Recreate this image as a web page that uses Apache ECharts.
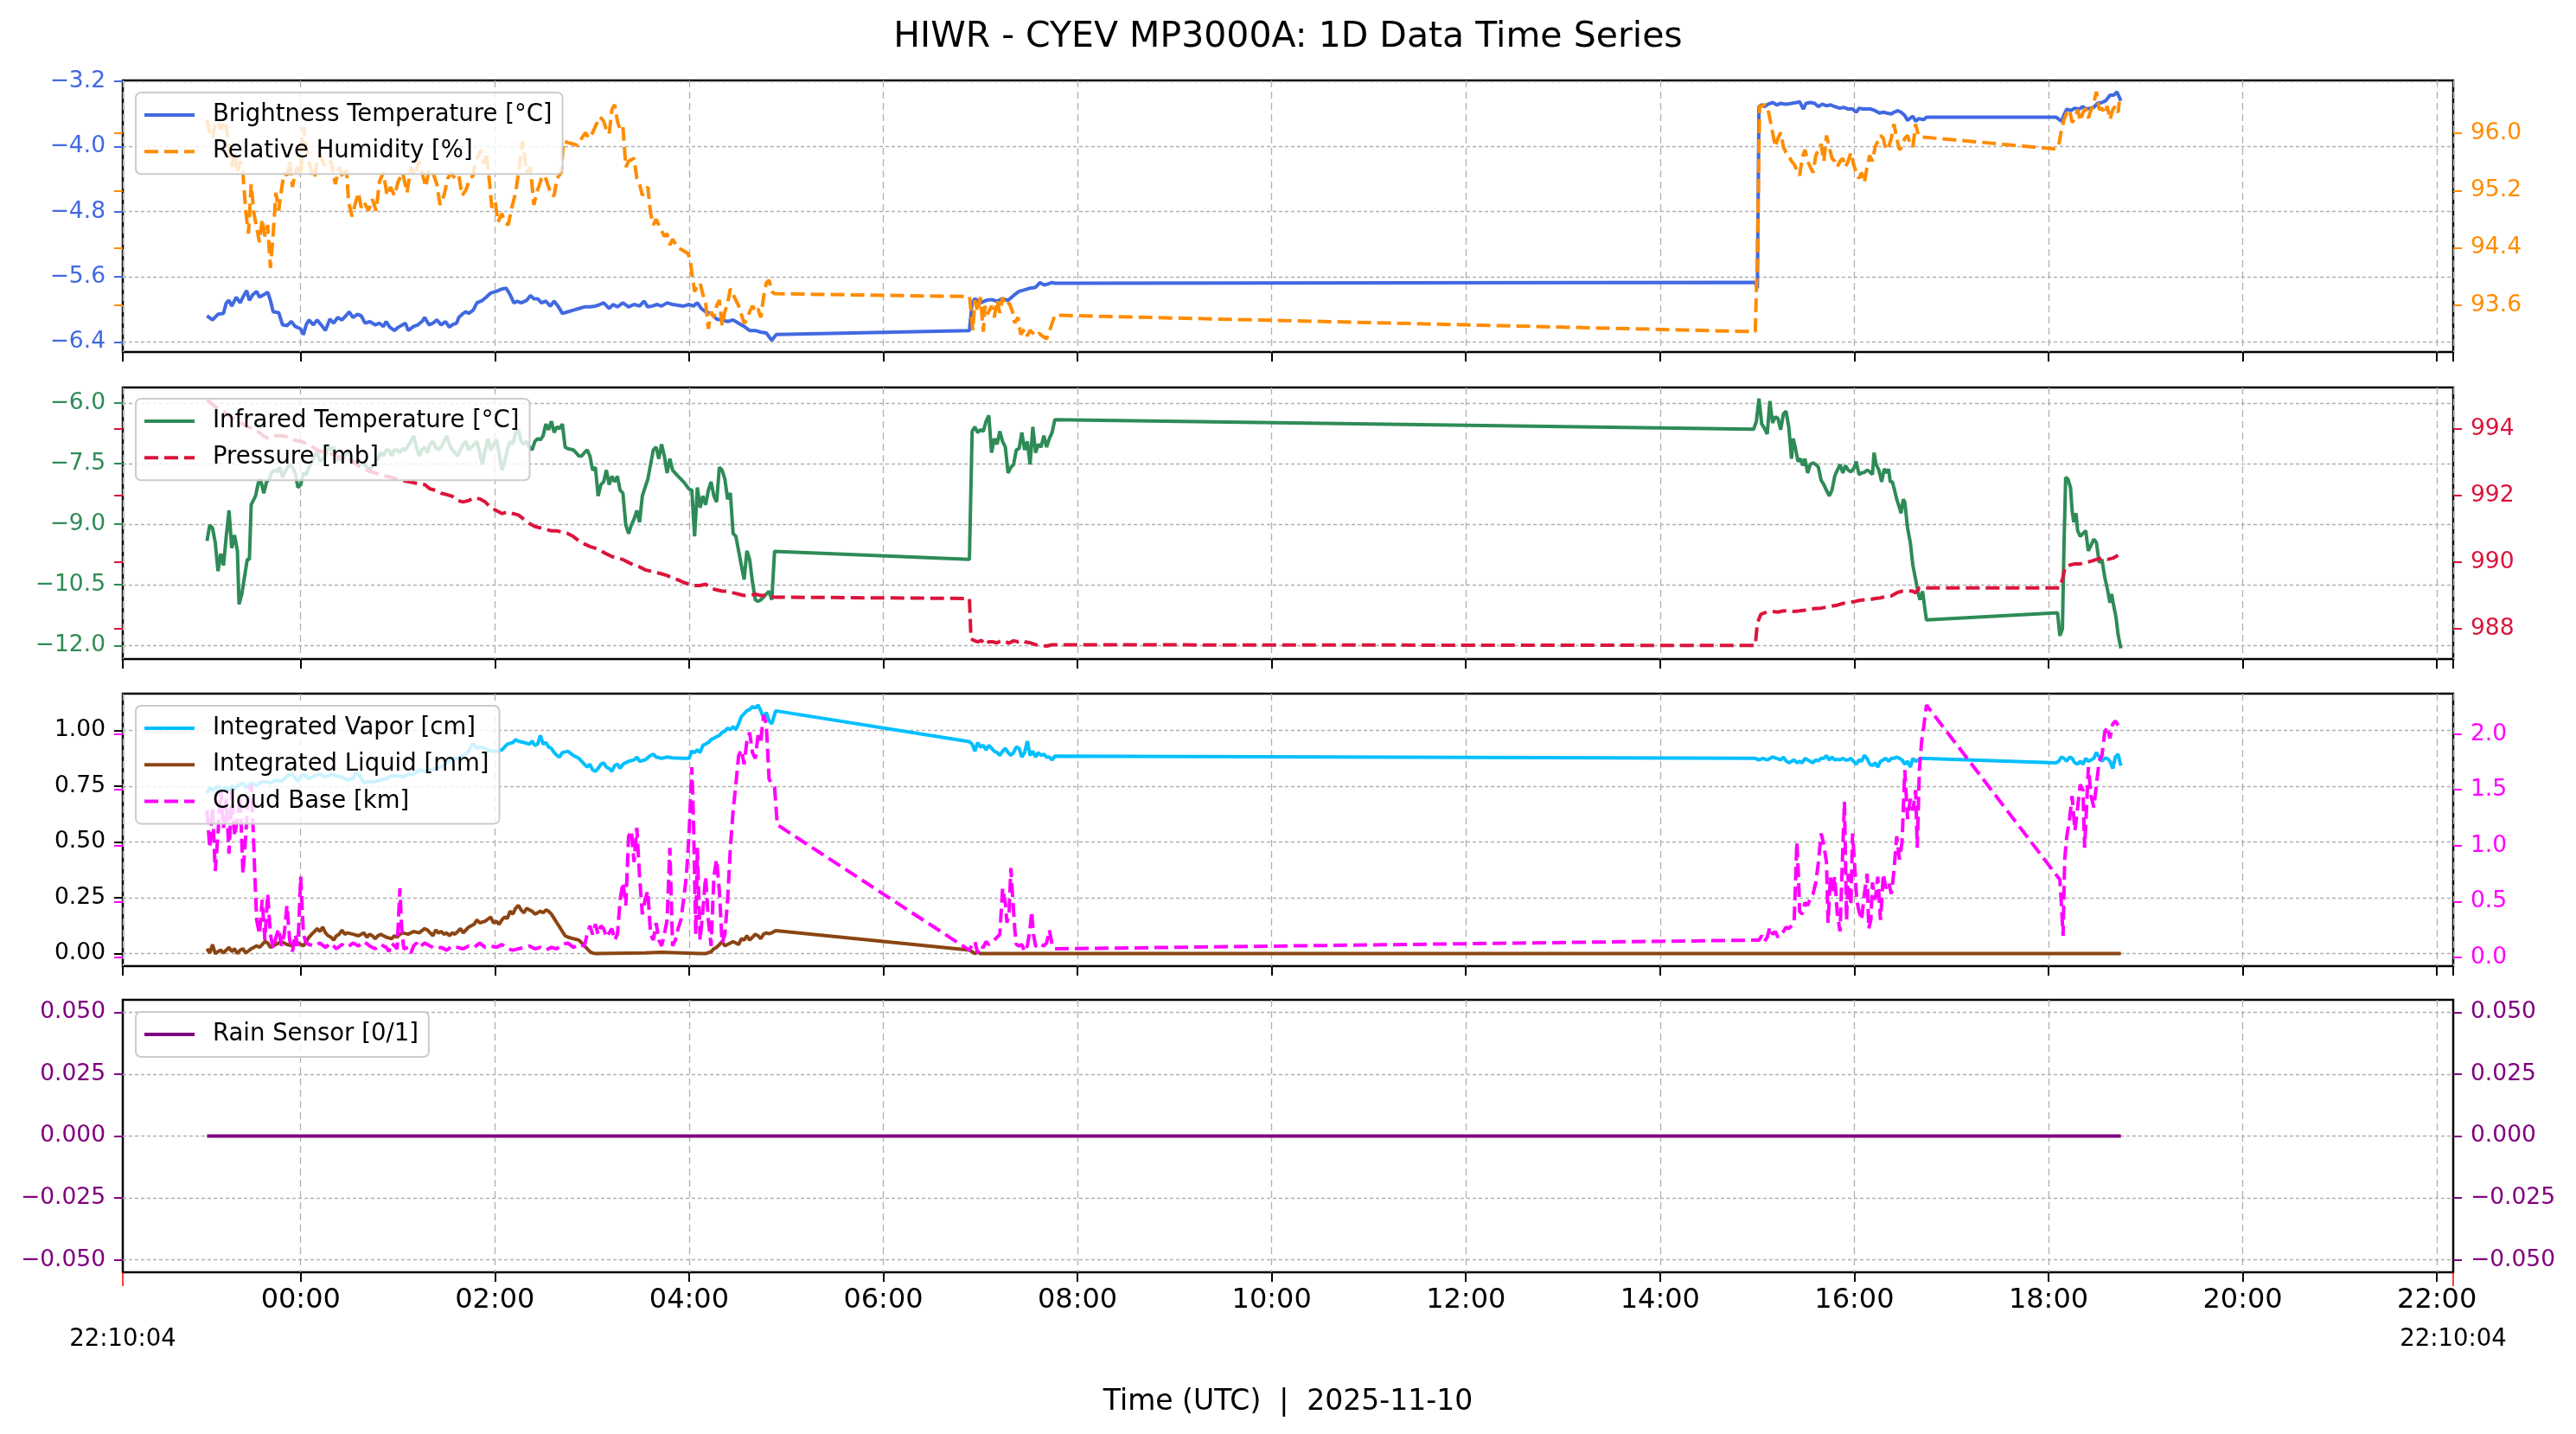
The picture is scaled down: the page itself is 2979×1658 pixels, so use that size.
<!DOCTYPE html>
<html>
<head>
<meta charset="utf-8">
<script src="https://cdn.jsdelivr.net/npm/echarts@6/dist/echarts.min.js"></script>
<style>
  html, body { margin: 0; padding: 0; background: #fff; }
  #chart { width: 2979px; height: 1658px; }
</style>
</head>
<body>
<div id="chart"></div>
<script>
// time = minutes from 2025-11-10 00:00 UTC (negative = evening of 11-09)
const tMin = -109.93, tMax = 1330.07;   // 22:10:04 .. 22:10:04
const timeTicks = [0, 120, 240, 360, 480, 600, 720, 840, 960, 1080, 1200, 1320];
const timeLabels = ['00:00', '02:00', '04:00', '06:00', '08:00', '10:00', '12:00', '14:00', '16:00', '18:00', '20:00', '22:00'];
const edgeLabels = ['22:10:04', '22:10:04'];

// brightness temperature [°C]
const btT = [-57.9,-54.5,-51.1,-47.7,-46.0,-44.3,-42.6,-39.8,-37.4,-35.7,-33.4,-31.7,-29.6,-27.2,-25.5,-22.8,-20.4,-18.7,-17.0,-13.6,-11.2,-8.5,-5.8,-3.4,0,1.7,3.4,5.1,7.8,10.2,12.6,15.3,18.0,20.4,22.8,25.5,27.9,30.0,32.3,35.1,37.4,39.8,42.6,46.0,48.7,51.1,52.8,55.1,57.9,60.3,64.7,66.4,69.8,72.5,74.9,76.6,79.3,81.7,84.1,86.8,89.5,91.9,93.6,96.3,97.7,100.4,102.1,103.8,106.6,108.9,112.3,114.7,117.4,120.9,124.3,127.0,129.4,131.7,133.8,136.2,139.6,142.0,144.0,146.4,148.8,151.5,154.2,156.6,159.0,161.7,165.1,168.5,171.9,175.3,178.7,182.1,184.9,187.2,190.6,193.0,195.7,199.1,202.6,206.0,209.4,212.1,214.5,217.2,220.3,223.0,226.4,229.8,233.2,236.6,240.0,242.7,245.1,247.5,250.2,253.6,257.0,260.4,263.8,267.2,270.6,274.0,277.4,280.9,284.3,287.7,291.1,293.8,
  413.2,414.9,416.6,420.0,423.5,426.9,430.3,433.7,437.1,440.5,443.9,447.3,450.7,454.1,456.8,459.2,461.6,464.3,466.0,
  898.8,900.1,901.1,902.8,904.5,906.8,909.5,912.2,914.5,917.8,921.2,924.5,926.2,928.5,930.2,932.8,935.5,937.8,940.2,942.8,945.5,947.9,951.2,953.5,956.2,958.9,961.2,962.9,965.5,967.9,970.2,972.9,975.5,977.9,980.2,982.9,984.5,986.9,988.9,991.2,992.9,994.6,996.2,997.9,999.6,1002.9,1004.6,1084.6,1088.0,1089.6,1091.3,1093.6,1096.3,1099.0,1101.3,1103.0,1105.6,1108.0,1110.3,1113.0,1115.3,1118.0,1120.3,1122.3,1124.7];
const btV = [-6.08,-6.13,-6.06,-6.05,-5.92,-5.89,-5.96,-5.85,-5.92,-5.85,-5.77,-5.89,-5.82,-5.78,-5.85,-5.82,-5.79,-5.89,-6.03,-6.04,-6.19,-6.20,-6.15,-6.21,-6.24,-6.31,-6.19,-6.13,-6.19,-6.13,-6.19,-6.26,-6.12,-6.17,-6.10,-6.13,-6.08,-6.03,-6.10,-6.06,-6.08,-6.17,-6.15,-6.19,-6.17,-6.21,-6.15,-6.22,-6.26,-6.22,-6.17,-6.26,-6.21,-6.19,-6.15,-6.10,-6.19,-6.17,-6.13,-6.19,-6.15,-6.22,-6.19,-6.17,-6.10,-6.05,-6.03,-6.05,-6.01,-5.92,-5.89,-5.85,-5.80,-5.78,-5.75,-5.74,-5.82,-5.92,-5.90,-5.92,-5.89,-5.83,-5.87,-5.87,-5.92,-5.90,-5.96,-5.90,-5.96,-6.05,-6.03,-6.01,-5.99,-5.97,-5.97,-5.96,-5.94,-5.92,-5.99,-5.94,-5.97,-5.92,-5.97,-5.94,-5.96,-5.90,-5.97,-5.96,-5.94,-5.96,-5.92,-5.94,-5.95,-5.96,-5.94,-5.96,-5.92,-5.99,-6.03,-6.05,-6.12,-6.13,-6.15,-6.13,-6.17,-6.21,-6.26,-6.26,-6.28,-6.29,-6.38,-6.31,
  -6.26,-5.92,-5.87,-5.92,-5.89,-5.88,-5.90,-5.87,-5.89,-5.83,-5.78,-5.76,-5.74,-5.73,-5.67,-5.70,-5.69,-5.67,-5.68,
  -5.67,-5.74,-3.51,-3.49,-3.51,-3.48,-3.46,-3.49,-3.47,-3.48,-3.47,-3.46,-3.45,-3.54,-3.47,-3.46,-3.47,-3.51,-3.48,-3.50,-3.49,-3.51,-3.53,-3.52,-3.54,-3.54,-3.58,-3.53,-3.54,-3.54,-3.54,-3.56,-3.59,-3.58,-3.59,-3.60,-3.58,-3.56,-3.58,-3.62,-3.68,-3.65,-3.63,-3.69,-3.66,-3.67,-3.64,-3.64,-3.69,-3.61,-3.54,-3.56,-3.53,-3.54,-3.51,-3.54,-3.53,-3.52,-3.47,-3.46,-3.44,-3.37,-3.37,-3.33,-3.44];

// relative humidity [%]
const rhT = [-57.9,-56.2,-54.5,-52.8,-51.1,-49.4,-47.7,-46.0,-44.3,-42.6,-40.9,-39.1,-37.4,-35.7,-34.0,-32.3,-30.6,-28.9,-27.2,-25.5,-23.8,-22.1,-20.4,-18.7,-17.0,-15.3,-13.6,-11.9,-10.2,-8.5,-6.8,-5.1,-3.4,-1.7,0,1.7,3.4,5.1,6.8,8.5,10.2,11.9,15.3,18.7,21.4,23.8,26.2,28.3,29.6,31.7,34.0,35.7,37.4,39.1,41.9,44.3,46.6,48.7,51.1,53.4,55.5,57.9,60.3,63.0,65.7,68.1,70.5,73.2,75.9,77.3,79.3,81.7,84.1,86.1,88.5,90.9,92.9,95.3,97.7,99.7,102.1,104.5,106.6,107.9,110.0,111.3,113.4,114.7,116.8,118.1,120.2,121.9,124.3,126.0,128.3,130.4,132.8,135.1,137.2,139.6,142.0,144.0,146.4,148.8,150.8,153.2,154.9,156.6,158.3,161.0,162.4,165.1,168.5,171.2,173.6,176.0,178.0,180.4,182.8,184.9,187.2,188.9,190.6,192.3,194.0,195.7,197.4,199.1,200.9,202.6,204.3,206.0,207.7,209.4,211.1,212.8,214.5,216.2,217.9,219.6,221.3,223.0,224.7,226.4,228.1,229.8,233.2,236.6,239.3,240.7,241.7,243.4,245.1,246.8,248.5,250.2,251.9,253.6,255.3,257.0,258.7,260.4,262.1,263.8,265.5,267.2,268.9,270.6,272.3,274.0,275.7,277.4,279.2,280.9,282.6,284.3,286.0,287.7,289.4,291.1,292.8,
  413.2,413.9,415.3,416.6,418.3,420.0,421.8,422.8,424.1,425.2,426.9,428.6,430.3,432.0,433.7,435.4,437.8,439.8,441.2,443.2,444.9,447.3,449.0,450.7,452.4,454.1,456.2,458.2,460.9,462.6,464.3,466.0,
  898.8,900.1,901.5,902.8,904.5,906.2,907.8,909.5,911.2,912.8,914.5,916.2,917.8,919.5,921.2,922.8,924.5,926.2,927.8,929.5,931.2,932.8,934.5,936.2,937.8,939.5,941.2,942.8,944.5,946.2,947.9,949.5,951.2,952.9,954.5,956.2,957.9,959.5,961.2,962.9,964.5,966.2,967.9,969.5,971.2,972.9,974.5,976.2,977.9,979.5,981.2,982.9,984.5,986.2,987.9,989.5,991.2,992.9,994.6,996.2,997.9,999.6,1001.2,
  1084.6,1086.3,1088.0,1089.6,1091.3,1093.0,1094.6,1096.3,1098.0,1099.6,1101.3,1103.0,1104.6,1106.3,1108.0,1109.6,1111.3,1113.0,1114.7,1116.3,1118.0,1119.7,1121.3,1123.0,1123.7];
const rhV = [96.19,96.01,95.93,96.13,96.17,96.05,96.17,96.09,95.81,95.53,95.73,95.45,95.61,95.45,94.92,94.60,95.29,94.88,94.68,94.48,94.80,94.56,94.72,94.12,94.60,95.17,94.92,95.21,95.45,95.41,95.61,95.25,95.45,95.53,95.41,96.09,95.81,95.61,95.45,95.37,95.61,95.69,95.53,95.61,95.29,95.53,95.37,95.49,95.04,94.84,95.04,95.17,94.96,95.04,94.92,95.08,94.92,95.33,95.45,95.13,95.25,95.13,95.33,95.45,95.17,95.53,95.41,95.61,95.37,95.25,95.49,95.45,95.29,95.00,95.13,95.37,95.45,95.37,95.41,95.13,95.21,95.37,95.41,95.61,95.69,95.77,95.57,95.73,95.29,94.96,95.04,94.76,94.88,94.76,94.72,94.96,95.17,95.53,95.89,95.45,95.53,95.00,95.21,95.37,95.41,95.25,95.13,95.13,95.37,95.45,95.89,95.87,95.85,95.83,95.93,96.01,95.93,96.01,96.13,96.23,96.17,96.05,95.99,96.33,96.40,96.17,96.05,96.09,95.53,95.61,95.63,95.65,95.37,95.29,95.13,95.21,95.25,94.88,94.72,94.80,94.72,94.64,94.56,94.60,94.44,94.52,94.40,94.36,94.32,94.24,94.04,93.79,93.87,93.91,93.75,93.63,93.27,93.51,93.43,93.59,93.67,93.31,93.51,93.63,93.83,93.75,93.67,93.59,93.47,93.35,93.39,93.51,93.59,93.51,93.55,93.43,93.71,93.91,93.95,93.79,93.76,
  93.72,93.59,93.25,93.67,93.51,93.71,93.23,93.59,93.47,93.51,93.59,93.43,93.67,93.49,93.71,93.59,93.63,93.51,93.35,93.43,93.19,93.27,93.17,93.25,93.21,93.17,93.21,93.17,93.13,93.23,93.35,93.46,
  93.23,94.32,96.38,96.38,96.40,96.38,96.21,96.01,95.81,95.93,96.01,95.81,95.73,95.69,95.61,95.57,95.49,95.41,95.65,95.77,95.61,95.53,95.45,95.69,95.77,95.85,95.61,95.97,95.81,95.65,95.61,95.53,95.61,95.65,95.53,95.61,95.73,95.57,95.45,95.37,95.45,95.31,95.53,95.69,95.61,95.81,95.89,95.97,95.93,95.77,95.81,95.93,96.13,95.93,95.77,95.81,95.93,95.97,95.85,95.81,96.13,95.97,95.95,
  95.78,95.83,96.05,96.19,96.29,96.33,96.15,96.21,96.33,96.17,96.29,96.35,96.21,96.33,96.42,96.58,96.33,96.35,96.27,96.38,96.19,96.33,96.38,96.29,96.44];

// infrared temperature [°C]
const irT = [-57.9,-56.2,-54.5,-52.8,-51.1,-49.4,-47.7,-46.0,-44.3,-42.6,-40.9,-39.1,-38.1,-36.4,-34.7,-33.0,-31.7,-30.6,-28.9,-27.9,-26.2,-24.9,-22.8,-21.1,-19.4,-18.0,-16.3,-14.6,-12.9,-11.2,-9.2,-6.8,-5.1,-3.4,-1.7,0,1.7,3.4,5.1,6.8,8.5,10.2,11.9,13.6,15.3,17.0,18.7,20.4,22.1,23.8,25.5,27.2,28.9,32.3,35.7,39.1,42.6,46.0,47.7,49.4,51.1,52.8,54.5,56.2,57.9,59.6,61.3,63.0,64.7,66.4,68.1,69.8,71.5,73.2,74.9,76.6,78.3,80.0,81.7,83.4,85.1,86.8,88.5,90.2,91.9,93.6,95.3,97.0,98.7,100.4,102.1,103.8,105.5,107.2,108.9,110.6,112.3,114.0,115.7,117.4,119.2,120.9,122.6,124.3,126.0,127.7,129.4,131.1,132.8,134.5,136.2,137.9,139.6,141.3,143.0,144.7,146.4,148.1,149.8,151.5,153.2,154.9,156.6,158.3,160.0,161.7,163.4,165.1,168.5,171.9,173.6,175.3,177.0,178.7,180.4,182.1,183.8,185.5,187.2,188.9,190.6,192.3,194.0,195.7,197.4,199.1,200.9,202.6,204.3,206.0,207.7,209.4,211.1,212.8,214.5,216.2,217.9,219.6,221.3,223.0,224.7,226.4,228.1,229.8,233.2,236.6,240.0,241.7,243.4,245.1,246.8,248.5,250.2,251.9,253.6,255.3,257.0,258.7,260.4,262.1,263.8,265.5,267.2,268.9,270.6,272.3,274.0,275.7,277.4,279.2,280.9,282.6,284.3,286.0,287.7,289.4,291.1,292.8,
  413.2,414.9,416.6,418.3,420.0,421.8,423.5,425.2,426.9,428.6,430.3,432.0,433.7,435.4,437.1,438.8,440.5,442.2,443.9,445.6,447.3,449.0,450.7,452.4,454.1,455.8,457.5,459.2,460.9,462.6,464.3,466.0,
  897.8,899.5,901.1,902.8,904.5,906.2,907.8,909.5,911.2,912.8,914.5,916.2,917.8,919.5,921.2,922.2,923.5,925.2,926.8,928.2,929.5,931.2,932.8,934.5,936.2,937.8,939.5,941.2,942.8,944.5,946.2,947.9,949.5,951.2,952.9,954.5,956.2,957.9,959.5,961.2,962.9,964.5,966.2,967.9,969.5,971.2,972.2,973.5,975.2,976.9,978.5,980.2,981.2,982.2,983.5,984.9,986.2,987.9,988.9,990.2,991.2,992.9,994.6,996.2,997.9,999.6,1000.6,1002.2,1003.6,1004.6,
  1085.6,1087.0,1088.6,1089.6,1090.6,1092.0,1093.6,1094.6,1095.6,1097.0,1098.0,1099.6,1101.3,1103.0,1104.6,1106.3,1108.0,1109.6,1111.3,1113.0,1114.7,1116.3,1118.0,1119.0,1120.3,1121.7,1123.0,1124.7];
const irV = [-9.41,-9.02,-9.09,-9.45,-10.16,-9.73,-10.02,-9.30,-8.66,-9.59,-9.27,-9.66,-10.98,-10.73,-10.30,-9.87,-9.87,-8.52,-8.38,-8.30,-7.98,-7.88,-8.23,-7.95,-7.88,-7.73,-7.66,-7.70,-7.59,-7.84,-7.66,-7.52,-7.59,-7.73,-8.09,-8.02,-7.73,-7.77,-7.59,-7.45,-7.31,-7.23,-7.45,-7.38,-7.31,-7.02,-7.16,-7.09,-7.45,-7.31,-7.45,-7.31,-7.16,-7.45,-7.45,-7.52,-7.66,-7.45,-7.38,-7.23,-7.31,-7.16,-7.16,-7.31,-7.16,-7.16,-7.23,-7.13,-7.16,-7.06,-6.95,-6.81,-7.09,-7.31,-7.16,-7.09,-7.23,-7.02,-6.95,-7.09,-7.16,-7.09,-6.95,-6.81,-7.02,-7.16,-7.23,-7.31,-7.16,-7.02,-6.95,-7.16,-7.09,-7.02,-6.95,-7.23,-7.52,-7.16,-6.88,-7.16,-7.02,-6.91,-7.23,-7.66,-7.45,-7.16,-6.95,-7.02,-6.73,-6.66,-6.95,-7.02,-6.95,-7.09,-7.16,-6.95,-6.88,-6.91,-6.81,-6.52,-6.66,-6.45,-6.73,-6.59,-6.63,-6.52,-7.09,-7.13,-7.16,-7.31,-7.31,-7.23,-7.16,-7.31,-7.66,-7.59,-8.30,-8.02,-7.95,-7.66,-8.02,-7.81,-7.95,-7.81,-8.16,-8.23,-9.02,-9.23,-9.02,-8.87,-8.66,-8.95,-8.30,-8.09,-7.88,-7.52,-7.16,-7.09,-7.38,-7.02,-7.31,-7.73,-7.38,-7.66,-7.81,-7.95,-8.13,-8.16,-9.30,-8.09,-8.59,-8.30,-8.52,-8.16,-7.95,-8.30,-8.45,-7.59,-7.66,-7.88,-8.38,-8.23,-9.23,-9.30,-9.66,-10.02,-10.37,-9.66,-9.87,-10.44,-10.87,-10.91,-10.87,-10.80,-10.73,-10.66,-10.87,-9.67,
  -9.87,-6.70,-6.59,-6.73,-6.66,-6.70,-6.45,-6.31,-7.23,-6.88,-7.02,-6.70,-6.95,-7.09,-7.73,-7.59,-7.52,-7.16,-7.13,-6.73,-7.16,-6.95,-7.52,-6.59,-7.23,-7.02,-7.09,-6.81,-7.09,-6.88,-6.73,-6.41,
  -6.65,-6.45,-5.89,-6.52,-6.63,-6.77,-5.95,-6.49,-6.34,-6.38,-6.66,-6.27,-6.20,-6.59,-7.38,-6.88,-7.09,-7.45,-7.38,-7.55,-7.38,-7.73,-7.52,-7.48,-7.52,-7.59,-7.91,-8.02,-8.16,-8.30,-8.16,-7.81,-7.66,-7.52,-7.73,-7.55,-7.66,-7.70,-7.63,-7.45,-7.77,-7.73,-7.72,-7.66,-7.70,-7.77,-7.23,-7.52,-7.66,-7.95,-7.63,-7.73,-7.63,-7.95,-7.95,-8.16,-8.38,-8.59,-8.73,-8.38,-8.45,-9.09,-9.45,-10.02,-10.37,-10.73,-10.87,-10.66,-11.09,-11.37,
  -11.19,-11.76,-11.59,-9.45,-7.84,-7.88,-8.09,-8.66,-8.95,-8.73,-9.16,-9.30,-9.23,-9.16,-9.66,-9.52,-9.37,-9.45,-9.95,-9.87,-10.30,-10.59,-10.94,-10.73,-11.02,-11.30,-11.73,-12.07];

// pressure [mb]
const prT = [-57.9,-52.8,-49.4,-46.0,-42.6,-39.1,-35.7,-32.3,-28.9,-25.5,-22.1,-18.7,-15.3,-11.9,-8.5,-5.1,0,5.1,10.2,15.3,20.4,25.5,30.6,35.7,40.9,46.0,51.1,56.2,61.3,66.4,71.5,76.6,80.0,83.4,86.8,90.2,93.6,97.0,100.4,103.8,107.2,110.6,114.0,117.4,120.9,124.3,127.7,131.1,134.5,137.9,141.3,144.7,148.1,151.5,154.9,158.3,161.7,165.1,168.5,171.9,175.3,178.7,182.1,185.5,188.9,192.3,195.7,199.1,202.6,206.0,209.4,212.8,216.2,219.6,223.0,226.4,229.8,233.2,236.6,240.0,243.4,246.8,250.2,253.6,257.0,260.4,263.8,267.2,270.6,274.0,277.4,280.9,284.3,287.7,292.8,
  413.2,414.2,415.9,418.3,420.7,422.8,425.2,427.5,430.3,433.0,435.4,437.8,440.5,443.2,445.6,447.3,450.7,454.1,457.5,460.9,464.3,466.0,
  898.8,900.1,902.2,904.5,909.5,912.8,916.2,919.5,922.8,926.2,929.5,932.8,936.2,939.5,942.8,946.2,949.5,952.9,956.2,959.5,962.9,966.2,969.5,972.9,976.2,979.5,982.9,986.2,989.5,992.9,996.2,997.9,1000.2,1087.0,1089.0,1090.3,1093.0,1096.3,1099.6,1103.0,1106.3,1109.6,1113.0,1116.3,1119.7,1123.0];
const prV = [994.88,994.67,994.58,994.45,994.36,994.23,994.15,994.06,994.02,993.89,993.76,993.71,993.80,993.80,993.76,993.67,993.63,993.54,993.37,993.28,993.24,993.11,993.07,992.89,992.76,992.68,992.59,992.55,992.46,992.42,992.37,992.33,992.20,992.16,992.07,992.03,991.98,991.85,991.81,991.85,991.94,991.90,991.81,991.64,991.55,991.46,991.51,991.46,991.42,991.29,991.16,991.07,991.03,990.99,990.94,990.94,990.90,990.86,990.77,990.64,990.55,990.47,990.42,990.34,990.25,990.17,990.12,990.08,989.99,989.91,989.86,989.77,989.73,989.69,989.65,989.60,989.52,989.47,989.39,989.34,989.30,989.30,989.34,989.21,989.17,989.13,989.13,989.08,989.04,989.00,989.00,989.04,989.00,989.00,988.95,
  988.91,987.70,987.65,987.61,987.65,987.52,987.61,987.61,987.58,987.65,987.61,987.57,987.64,987.61,987.65,987.61,987.58,987.52,987.50,987.48,987.52,987.52,
  987.50,988.17,988.43,988.48,988.52,988.50,988.54,988.54,988.52,988.54,988.56,988.59,988.61,988.62,988.65,988.68,988.71,988.76,988.80,988.81,988.85,988.87,988.88,988.91,988.93,988.97,988.99,989.08,989.13,989.14,989.13,989.08,989.23,989.23,989.56,989.86,989.91,989.95,989.95,989.99,990.03,990.08,990.12,990.08,990.12,990.21];

// integrated vapor [cm]
const ivT = [-57.9,-56.2,-54.5,-52.8,-51.1,-49.4,-47.7,-46.0,-44.3,-42.6,-40.9,-39.1,-37.4,-35.7,-34.0,-32.3,-30.6,-28.9,-27.2,-25.5,-22.1,-18.7,-15.3,-11.9,-8.5,-5.1,-1.7,0,1.7,5.1,8.5,11.9,15.3,18.7,22.1,25.5,28.9,32.3,34.0,35.7,39.1,42.6,46.0,49.4,52.8,56.2,59.6,63.0,66.4,69.8,73.2,76.6,80.0,83.4,86.8,90.2,93.6,97.0,100.4,103.8,105.5,107.2,108.9,110.6,114.0,117.4,120.9,124.3,127.7,131.1,132.8,134.5,137.9,141.3,143.0,144.7,146.4,148.1,149.8,151.5,153.2,154.9,156.6,158.3,160.0,161.7,165.1,168.5,171.9,175.3,177.0,178.7,180.4,182.1,183.8,185.5,187.2,188.9,190.6,192.3,194.0,195.7,197.4,199.1,202.6,206.0,207.7,209.4,212.8,216.2,217.9,219.6,223.0,226.4,229.8,236.6,240.0,241.7,243.4,245.1,246.8,248.5,250.2,251.9,253.6,255.3,257.0,258.7,260.4,262.1,263.8,265.5,267.2,268.9,270.6,272.3,274.0,275.7,277.4,279.2,280.9,282.6,284.3,286.0,287.7,289.4,291.1,293.5,
  413.2,414.9,416.6,418.3,420.0,421.8,423.5,425.2,426.9,428.6,430.3,432.0,433.7,435.4,437.1,438.8,440.5,442.2,443.9,445.6,447.3,449.0,450.7,452.4,454.1,455.8,457.5,459.2,460.9,462.6,464.3,466.0,
  898.8,901.1,903.5,906.2,909.5,912.2,914.5,916.2,917.8,919.5,921.2,922.8,924.5,926.2,927.8,929.5,931.2,932.8,934.5,936.2,937.8,939.5,941.2,942.8,944.5,946.2,947.9,949.5,951.2,952.9,954.5,956.2,957.9,959.5,961.2,962.9,964.5,966.2,967.9,969.5,971.2,972.9,974.5,976.2,977.9,979.5,981.2,982.9,984.5,986.2,987.9,989.5,991.2,992.9,994.6,996.2,997.9,999.6,1001.2,
  1084.6,1086.3,1088.0,1089.6,1091.3,1093.0,1094.6,1096.3,1098.0,1099.6,1101.3,1103.0,1104.6,1106.3,1108.0,1109.6,1111.3,1113.0,1114.7,1116.3,1118.0,1119.7,1121.3,1123.0,1124.7];
const ivV = [0.720,0.745,0.733,0.739,0.752,0.726,0.739,0.745,0.733,0.752,0.739,0.752,0.758,0.765,0.745,0.752,0.765,0.758,0.752,0.765,0.771,0.765,0.778,0.771,0.797,0.804,0.771,0.791,0.804,0.784,0.797,0.804,0.791,0.804,0.797,0.791,0.778,0.784,0.810,0.804,0.765,0.771,0.771,0.778,0.784,0.797,0.797,0.791,0.804,0.804,0.823,0.817,0.823,0.830,0.836,0.855,0.875,0.875,0.888,0.907,0.933,0.939,0.920,0.926,0.920,0.907,0.907,0.913,0.939,0.946,0.959,0.952,0.946,0.939,0.952,0.933,0.939,0.978,0.939,0.946,0.926,0.920,0.901,0.888,0.881,0.901,0.907,0.888,0.875,0.849,0.836,0.849,0.823,0.817,0.830,0.849,0.855,0.836,0.830,0.817,0.842,0.849,0.830,0.849,0.862,0.868,0.881,0.862,0.868,0.888,0.894,0.881,0.875,0.881,0.877,0.875,0.875,0.907,0.901,0.913,0.901,0.933,0.939,0.946,0.959,0.965,0.972,0.978,0.991,0.997,1.010,1.004,1.017,1.004,1.030,1.062,1.075,1.088,1.094,1.107,1.101,1.114,1.088,1.056,1.081,1.043,1.030,1.088,
  0.950,0.939,0.907,0.946,0.926,0.933,0.913,0.933,0.920,0.907,0.901,0.888,0.907,0.920,0.901,0.888,0.901,0.926,0.920,0.881,0.901,0.952,0.888,0.907,0.881,0.901,0.888,0.894,0.881,0.881,0.868,0.885,
  0.875,0.868,0.875,0.868,0.881,0.875,0.868,0.881,0.864,0.855,0.862,0.868,0.855,0.862,0.855,0.875,0.868,0.862,0.855,0.868,0.864,0.875,0.875,0.888,0.868,0.881,0.868,0.871,0.868,0.875,0.868,0.868,0.875,0.862,0.849,0.868,0.862,0.888,0.875,0.849,0.842,0.855,0.836,0.862,0.868,0.875,0.862,0.875,0.875,0.881,0.875,0.868,0.849,0.862,0.836,0.875,0.862,0.868,0.875,
  0.855,0.862,0.881,0.875,0.862,0.881,0.875,0.855,0.849,0.862,0.849,0.875,0.862,0.868,0.875,0.901,0.881,0.862,0.875,0.875,0.862,0.830,0.881,0.894,0.842];

// integrated liquid [mm]
const ilT = [-57.9,-56.2,-54.5,-52.8,-51.1,-49.4,-47.7,-46.0,-44.3,-42.6,-40.9,-39.1,-37.4,-35.7,-34.0,-32.3,-30.6,-28.9,-27.2,-25.5,-23.8,-22.1,-20.4,-18.7,-17.0,-15.3,-13.6,-11.9,-8.5,-5.1,-1.7,1.7,3.4,5.1,6.8,8.5,10.2,11.9,13.6,15.3,17.0,18.7,20.4,22.1,23.8,25.5,27.2,28.9,32.3,35.7,39.1,40.9,42.6,44.3,46.0,47.7,49.4,52.8,56.2,57.9,59.6,61.3,63.0,66.4,69.8,73.2,76.6,78.3,80.0,81.7,83.4,85.1,86.8,88.5,90.2,91.9,93.6,95.3,97.0,98.7,100.4,102.1,103.8,107.2,108.9,110.6,114.0,117.4,119.2,120.9,122.6,124.3,126.0,127.7,129.4,131.1,132.8,134.5,136.2,137.9,139.6,141.3,143.0,144.7,146.4,148.1,149.8,151.5,153.2,154.9,156.6,158.3,160.0,161.7,163.4,165.1,168.5,171.9,173.6,175.3,177.0,178.7,180.4,182.1,212.8,223.0,246.8,250.2,253.6,255.3,257.0,258.7,260.4,262.1,263.8,267.2,270.6,272.3,274.0,275.7,277.4,279.2,280.9,282.6,284.3,286.0,287.7,289.4,291.1,293.5,
  413.2,414.9,416.6,418.3,420.0,466.0,898.8,1124.7];
const ilV = [0.022,0.003,0.041,0.0,0.009,0.016,0.003,0.016,0.028,0.009,0.022,0.0,0.016,0.022,0.003,0.012,0.022,0.028,0.035,0.028,0.041,0.054,0.048,0.028,0.037,0.041,0.048,0.054,0.041,0.035,0.048,0.035,0.054,0.074,0.087,0.099,0.112,0.099,0.119,0.093,0.080,0.074,0.061,0.080,0.087,0.106,0.087,0.093,0.087,0.080,0.093,0.074,0.087,0.080,0.067,0.080,0.087,0.074,0.067,0.080,0.074,0.087,0.093,0.087,0.099,0.093,0.112,0.106,0.093,0.080,0.106,0.093,0.099,0.087,0.093,0.080,0.093,0.087,0.099,0.112,0.093,0.106,0.119,0.132,0.151,0.138,0.145,0.164,0.138,0.145,0.132,0.151,0.164,0.158,0.190,0.177,0.203,0.216,0.196,0.183,0.203,0.196,0.190,0.177,0.183,0.190,0.183,0.196,0.190,0.177,0.158,0.138,0.119,0.099,0.080,0.074,0.067,0.061,0.048,0.035,0.022,0.009,0.003,0.0,0.003,0.006,0.0,0.0,0.009,0.022,0.028,0.041,0.054,0.035,0.041,0.054,0.041,0.067,0.061,0.080,0.061,0.074,0.087,0.080,0.067,0.087,0.093,0.089,0.093,0.103,
  0.016,0.009,0.0,0.009,0.0,0.0,0.0,0.0];

// cloud base [km]
const cbT = [-57.9,-56.2,-54.5,-52.8,-51.1,-49.4,-47.7,-46.0,-44.3,-42.6,-40.9,-39.1,-37.4,-35.7,-34.0,-32.3,-30.6,-29.6,-28.3,-27.2,-25.5,-23.8,-22.1,-20.4,-18.7,-17.0,-15.3,-13.6,-11.9,-10.2,-8.5,-6.8,-5.1,-3.4,-1.7,0,1.7,3.4,5.1,8.5,11.9,15.3,18.7,22.1,25.5,28.9,32.3,35.7,39.1,42.6,46.0,49.4,52.8,54.5,56.2,57.9,59.6,61.3,62.3,63.7,66.4,68.1,69.8,71.5,73.2,76.6,80.0,83.4,86.8,90.2,93.6,97.0,100.4,103.8,107.2,110.6,114.0,117.4,120.9,124.3,127.7,131.1,134.5,137.9,141.3,144.7,148.1,151.5,154.9,158.3,161.7,165.1,168.5,171.9,175.3,177.0,178.7,180.4,182.1,183.8,185.5,187.2,188.9,190.6,192.3,194.0,195.7,197.4,199.1,200.9,202.6,204.3,206.0,207.7,209.4,211.1,212.8,214.5,216.2,217.9,219.6,221.3,223.0,224.7,226.4,228.1,229.8,231.5,233.2,234.9,236.6,238.3,240.0,241.7,242.7,244.1,245.1,246.8,248.5,250.2,251.9,253.6,255.3,257.0,258.7,260.4,262.1,263.8,265.5,267.2,268.9,270.6,272.3,274.0,275.7,277.4,279.2,280.9,282.6,284.3,286.0,287.7,289.4,291.1,292.8,294.5,
  413.2,414.9,416.6,418.3,420.0,421.8,423.5,425.2,426.9,428.6,430.3,432.0,433.7,435.4,436.4,437.8,438.8,439.8,441.2,442.2,443.9,445.6,447.3,449.0,450.7,451.7,452.8,454.1,455.8,457.5,459.2,460.9,462.6,464.3,466.0,
  898.8,901.1,902.8,904.5,906.2,907.8,909.5,911.2,912.8,914.5,916.2,917.8,919.5,921.2,922.8,924.5,925.5,926.2,927.8,929.5,931.2,932.8,934.5,936.2,937.8,939.5,941.2,942.8,943.8,945.2,946.2,947.9,949.5,951.2,952.9,953.9,955.2,956.2,957.9,958.9,960.2,961.5,962.9,964.5,966.2,967.9,968.9,970.2,971.2,972.9,974.5,976.2,977.9,979.5,981.2,982.9,984.5,986.2,987.9,989.5,991.2,992.9,994.6,996.2,997.9,998.9,1000.2,1001.6,1002.9,1004.6,
  1087.0,1088.0,1089.0,1090.0,1091.3,1093.0,1094.6,1096.3,1098.0,1099.6,1101.3,1102.3,1103.6,1104.6,1106.3,1108.0,1109.6,1111.3,1113.0,1114.7,1116.3,1118.0,1119.7,1121.3,1123.0];
const cbV = [1.316,0.981,1.342,0.774,1.110,1.497,1.161,1.419,0.929,1.497,1.084,1.239,1.445,0.748,1.084,1.471,1.548,1.239,0.723,0.335,0.206,0.516,0.155,0.568,0.206,0.077,0.181,0.258,0.103,0.206,0.465,0.155,0.052,0.206,0.103,0.723,0.206,0.129,0.116,0.103,0.129,0.090,0.129,0.077,0.116,0.090,0.129,0.103,0.142,0.103,0.077,0.116,0.090,0.052,0.129,0.103,0.077,0.619,0.284,0.077,0.090,0.039,0.103,0.129,0.090,0.129,0.103,0.077,0.090,0.065,0.103,0.090,0.077,0.103,0.090,0.129,0.090,0.103,0.090,0.116,0.077,0.065,0.077,0.090,0.103,0.077,0.090,0.065,0.090,0.077,0.116,0.129,0.090,0.116,0.103,0.206,0.284,0.206,0.297,0.206,0.284,0.258,0.181,0.219,0.258,0.155,0.206,0.516,0.671,0.465,1.084,1.135,0.852,1.161,0.723,0.387,0.516,0.594,0.206,0.155,0.310,0.155,0.103,0.206,0.335,0.981,0.103,0.155,0.258,0.335,0.516,0.723,1.110,1.703,1.239,0.206,0.981,0.155,0.413,0.723,0.335,0.103,0.723,0.877,0.594,0.129,0.206,0.516,0.981,1.316,1.548,1.806,1.858,1.729,1.935,2.013,1.832,1.781,1.987,1.935,2.168,2.090,1.600,1.548,1.523,1.187,
  0.065,0.116,0.142,0.039,0.103,0.090,0.142,0.116,0.129,0.155,0.181,0.206,0.619,0.490,0.310,0.413,0.800,0.568,0.258,0.116,0.103,0.116,0.052,0.103,0.258,0.413,0.206,0.103,0.090,0.116,0.103,0.129,0.245,0.116,0.077,
  0.155,0.155,0.194,0.142,0.181,0.271,0.206,0.232,0.181,0.206,0.232,0.271,0.258,0.284,0.310,1.032,0.723,0.413,0.387,0.490,0.465,0.529,0.568,0.671,0.852,1.110,1.006,0.852,0.310,0.723,0.568,0.723,0.387,0.232,0.981,1.394,0.335,0.748,0.465,1.110,0.826,0.516,0.413,0.335,0.568,0.748,0.258,0.335,0.671,0.516,0.723,0.335,0.748,0.619,0.671,0.568,0.774,1.084,0.877,1.032,1.677,1.239,1.419,1.316,1.497,0.981,1.677,1.935,2.065,2.258,
  0.697,0.465,0.194,0.877,1.084,1.239,1.445,1.135,1.342,1.548,1.497,0.981,1.368,1.703,1.445,1.342,1.548,1.755,1.806,2.013,2.065,1.961,2.090,2.116,2.077];

// rain sensor [0/1]
const rainT = [-57.9, 1124.7];
const rainV = [0, 0];

// axis ticks
const btTicks = [-6.4, -5.6, -4.8, -4.0, -3.2];
const rhTicks = [93.6, 94.4, 95.2, 96.0];
const irTicks = [-12.0, -10.5, -9.0, -7.5, -6.0];
const prTicks = [988, 990, 992, 994];
const ivTicks = [0, 0.25, 0.5, 0.75, 1.0];
const cbTicks = [0, 0.5, 1.0, 1.5, 2.0];
const rainTicks = [-0.05, -0.025, 0, 0.025, 0.05];

// axis limits
const btLim = [-6.524, -3.189];
const rhLim = [92.946, 96.738];
const irLim = [-12.336, -5.615];
const prLim = [987.091, 995.247];
const ivLim = [-0.0558, 1.165];
const cbLim = [-0.0774, 2.361];
const rainLim = [-0.055, 0.055];

const FONT = 'DejaVu Sans';
const GRIDC = '#b0b0b0';
const LW = 4;

const zip = (t, v) => t.map((x, i) => [x, v[i]]);
const fix = d => v => v.toFixed(d).replace('-', '\u2212');

const grids = [[93, 314], [448, 314], [802, 315], [1156, 315]].map(g => ({
  left: 142, right: 142, top: g[0], height: g[1],
  show: true, borderColor: '#000', borderWidth: 2.5, backgroundColor: 'transparent',
  outerBoundsMode: 'none'
}));

function xAx(i, showLabels) {
  return {
    type: 'value', gridIndex: i, min: tMin, max: tMax, position: 'bottom',
    minInterval: 120, maxInterval: 120,
    axisLine: { show: false, onZero: false },
    axisTick: { show: true, length: 11, customValues: showLabels ? timeTicks : [tMin].concat(timeTicks, [tMax]),
      lineStyle: { color: '#000', width: 2 } },
    axisLabel: { show: showLabels, customValues: timeTicks, margin: 17, fontSize: 32, color: '#000', fontFamily: FONT,
      formatter: v => timeLabels[Math.round(v / 120)] || '' },
    splitLine: { show: true, lineStyle: { color: GRIDC, width: 1.3, type: [8, 5] } }
  };
}

function yAx(g, pos, lim, ticks, step, dec, color, extra) {
  return Object.assign({
    type: 'value', gridIndex: g, position: pos, min: lim[0], max: lim[1],
    minInterval: step, maxInterval: step,
    axisLine: { show: false, onZero: false },
    axisTick: { show: true, length: 10, customValues: ticks, lineStyle: { color: color, width: 2 } },
    axisLabel: { show: true, customValues: ticks, formatter: fix(dec), color: color, fontSize: 26.5, margin: 20, fontFamily: FONT },
    splitLine: { show: false }
  }, extra || {});
}
const hGrid = { show: true, lineStyle: { color: GRIDC, width: 1.3, type: [4, 3] } };
const ghost = { axisLabel: { show: false } };

const C = {
  bt: '#4169E1', rh: '#FF8C00', ir: '#2E8B57', pr: '#DC143C',
  iv: '#00BFFF', il: '#8B4513', cb: '#FF00FF', rain: '#800080'
};

const yAxis = [
  yAx(0, 'left', btLim, btTicks, 0.8, 1, C.bt, { splitLine: hGrid }),     // 0
  yAx(0, 'right', rhLim, rhTicks, 0.8, 1, C.rh),                          // 1
  yAx(0, 'left', rhLim, rhTicks, 0.8, 1, C.rh, ghost),                    // 2
  yAx(1, 'left', irLim, irTicks, 1.5, 1, C.ir, { splitLine: hGrid }),     // 3
  yAx(1, 'right', prLim, prTicks, 2, 0, C.pr),                            // 4
  yAx(1, 'left', prLim, prTicks, 2, 0, C.pr, ghost),                      // 5
  yAx(2, 'left', ivLim, ivTicks, 0.25, 2, '#000', { splitLine: hGrid }),  // 6
  yAx(2, 'right', cbLim, cbTicks, 0.5, 1, C.cb),                          // 7
  yAx(2, 'left', cbLim, cbTicks, 0.5, 1, C.cb, ghost),                    // 8
  yAx(3, 'left', rainLim, rainTicks, 0.025, 3, C.rain, { splitLine: hGrid }), // 9
  yAx(3, 'right', rainLim, rainTicks, 0.025, 3, C.rain)                   // 10
];

const xAxis = [xAx(0, false), xAx(1, false), xAx(2, false), xAx(3, true), {
  type: 'value', gridIndex: 3, min: tMin, max: tMax, position: 'bottom',
  axisLine: { show: false, onZero: false },
  axisTick: { show: true, length: 16, customValues: [tMin, tMax], lineStyle: { color: '#ff0000', width: 1.5 } },
  axisLabel: { show: true, customValues: [tMin, tMax], showMinLabel: true, showMaxLabel: true,
    margin: 64, fontSize: 27.5, color: '#000', fontFamily: FONT,
    formatter: v => (v < 600 ? edgeLabels[0] : edgeLabels[1]) },
  splitLine: { show: false }
}];

function line(name, t, v, xi, yi, color, dashed) {
  return {
    type: 'line', name: name, xAxisIndex: xi, yAxisIndex: yi, data: zip(t, v),
    symbol: 'none', showSymbol: false, animation: false, silent: true,
    lineStyle: { color: color, width: LW, type: dashed ? [16, 7] : 'solid' },
    itemStyle: { color: color }
  };
}

const series = [
  line('Brightness Temperature [°C]', btT, btV, 0, 0, C.bt, false),
  line('Relative Humidity [%]', rhT, rhV, 0, 1, C.rh, true),
  line('Infrared Temperature [°C]', irT, irV, 1, 3, C.ir, false),
  line('Pressure [mb]', prT, prV, 1, 4, C.pr, true),
  line('Integrated Vapor [cm]', ivT, ivV, 2, 6, C.iv, false),
  line('Integrated Liquid [mm]', ilT, ilV, 2, 6, C.il, false),
  line('Cloud Base [km]', cbT, cbV, 2, 7, C.cb, true),
  line('Rain Sensor [0/1]', rainT, rainV, 3, 9, C.rain, false)
];

function legend(top, names) {
  return {
    top: top, left: 157, orient: 'vertical', data: names, selectedMode: false,
    itemWidth: 58, itemHeight: 2, itemGap: 14.2,
    itemStyle: { opacity: 0 },
    lineStyle: { width: LW },
    padding: [12, 12, 12, 8],
    backgroundColor: 'rgba(255,255,255,0.8)', borderColor: '#cccccc', borderWidth: 2, borderRadius: 6,
    textStyle: { fontSize: 27.5, color: '#000', fontFamily: FONT, padding: [0, 0, 0, 16] }
  };
}

const chart = echarts.init(document.getElementById('chart'), null, { renderer: 'canvas' });
chart.setOption({
  animation: false,
  backgroundColor: '#fff',
  textStyle: { fontFamily: FONT },
  title: [
    { text: 'HIWR - CYEV MP3000A: 1D Data Time Series', left: 'center', top: 18,
      textStyle: { fontSize: 41, fontWeight: 'normal', color: '#000', fontFamily: FONT } },
    { text: 'Time (UTC)  |  2025-11-10', left: 'center', top: 1600,
      textStyle: { fontSize: 33, fontWeight: 'normal', color: '#000', fontFamily: FONT } }
  ],
  legend: [
    legend(107, ['Brightness Temperature [°C]', 'Relative Humidity [%]']),
    legend(461, ['Infrared Temperature [°C]', 'Pressure [mb]']),
    legend(816, ['Integrated Vapor [cm]', 'Integrated Liquid [mm]', 'Cloud Base [km]']),
    legend(1170, ['Rain Sensor [0/1]'])
  ],
  grid: grids,
  xAxis: xAxis,
  yAxis: yAxis,
  series: series
});
</script>
</body>
</html>
